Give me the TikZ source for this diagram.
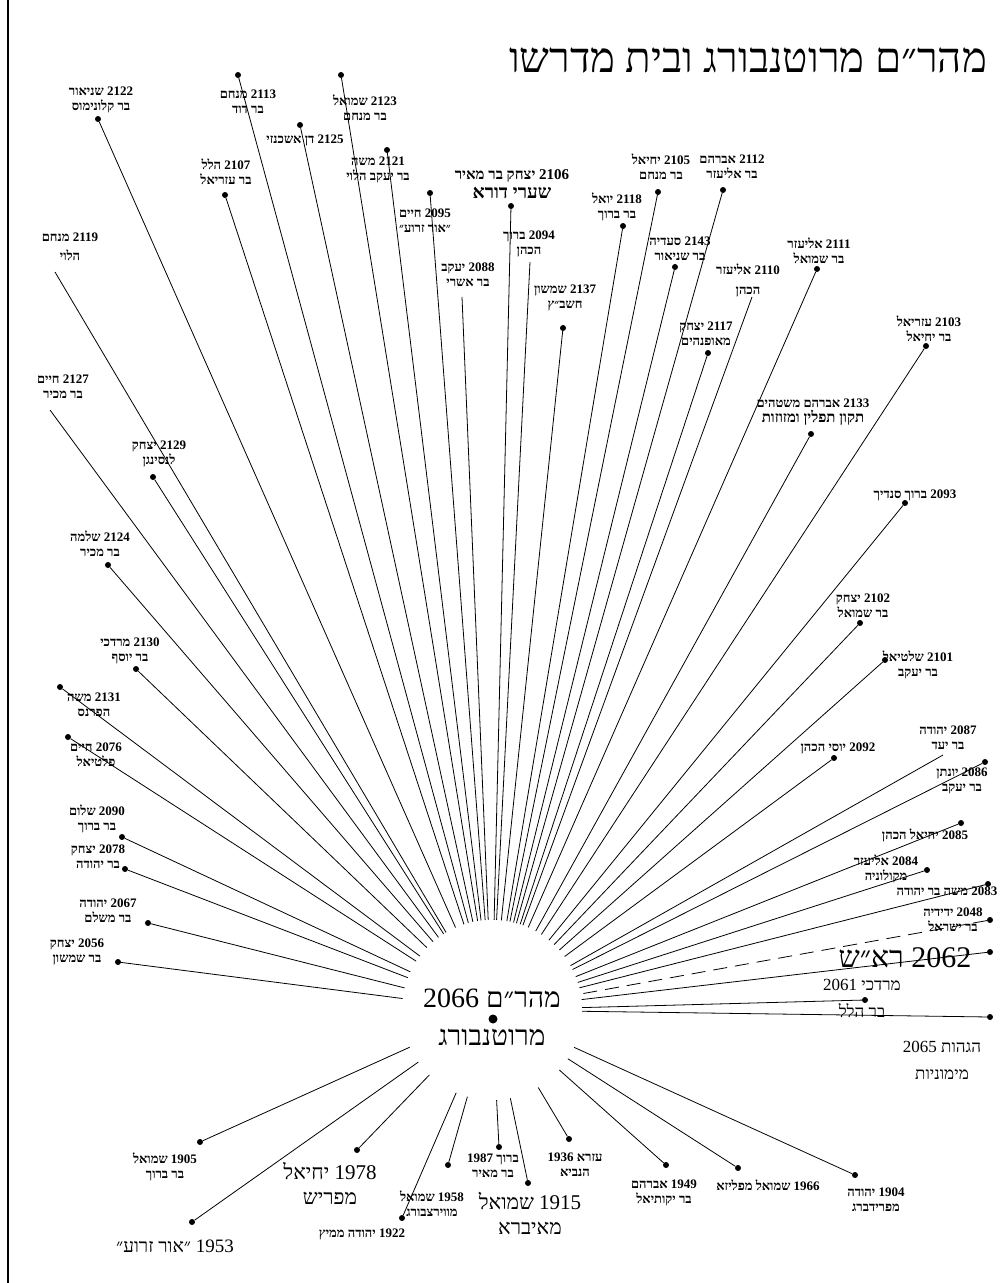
\documentclass[tikz,border=0pt]{standalone}
\usepackage{fontspec}
\usetikzlibrary{shapes.geometric}
\newfontfamily\heb[Script=Hebrew]{Liberation Serif}
\TeXXeTstate=1
\newcommand\hb[1]{\beginR #1\endR}
\tikzset{
  lab/.style={font=\heb\bfseries\fontsize{13}{15}\selectfont, align=center, inner sep=0pt},
  mid/.style={font=\heb\fontsize{17}{20}\selectfont, align=center, inner sep=0pt},
  big/.style={font=\heb\fontsize{21}{25}\selectfont, align=center, inner sep=0pt},
  dot/.style={circle, fill=black, inner sep=0pt, minimum size=6pt},
  ray/.style={line width=0.8pt},
}
\begin{document}
\begin{tikzpicture}[x=1pt,y=-1pt]
\fill[white] (0,0) rectangle (1000,1283);
\useasboundingbox (0,0) rectangle (1000,1283);
\draw[line width=1.2pt] (8,0) -- (8,1283);

\node[circle, minimum size=180pt, inner sep=0pt] (hub) at (492,1010) {};

% ---- dots / line ends
\node[dot] (d2122) at (98,119) {};
\node[dot] (d2113) at (238,75) {};
\node[dot] (d2123) at (341,75) {};
\node[dot] (d2125) at (300,125) {};
\node[dot] (d2107) at (225,195) {};
\node[dot] (d2121) at (387,150) {};
\node[dot] (d2095) at (430,193) {};
\node[dot] (d2106) at (511,206) {};
\coordinate (d2094) at (530,262);
\coordinate (d2088) at (462,297);
\node[dot] (d2137) at (563,328) {};
\node[dot] (d2118) at (623,226) {};
\node[dot] (d2105) at (658,192) {};
\node[dot] (d2112) at (723,190) {};
\node[dot] (d2143) at (675,267) {};
\coordinate (d2110) at (752,297);
\node[dot] (d2111) at (817,269) {};
\node[dot] (d2117) at (708,353) {};
\node[dot] (d2103) at (926,346) {};
\coordinate (d2119) at (55,272);
\coordinate (d2127) at (50,410);
\node[dot] (d2129) at (153,477) {};
\node[dot] (d2124) at (108,565) {};
\node[dot] (d2130) at (136,669) {};
\node[dot] (d2131) at (60,687) {};
\node[dot] (d2076) at (68,737) {};
\node[dot] (d2090) at (122,837) {};
\node[dot] (d2078) at (125,869) {};
\node[dot] (d2067) at (148,923) {};
\node[dot] (d2056) at (118,962) {};
\node[dot] (d2133) at (811,434) {};
\node[dot] (d2093) at (905,503) {};
\node[dot] (d2102) at (860,623) {};
\node[dot] (d2101) at (885,660) {};
\node[dot] (d2092) at (834,758) {};
\coordinate (d2087) at (943,755);
\node[dot] (d2086) at (985,762) {};
\node[dot] (d2085) at (961,823) {};
\node[dot] (d2084) at (927,870) {};
\node[dot] (d2083) at (988,884) {};
\node[dot] (d2048) at (990,920) {};
\node[dot] (d2062) at (990,952) {};
\node[dot] (d2061) at (865,1000) {};
\node[dot] (d2065) at (990,1017) {};
\node[dot] (d1905) at (200,1142) {};
\node[dot] (d1953) at (192,1222) {};
\node[dot] (d1978) at (357,1150) {};
\node[dot] (d1922) at (402,1218) {};
\node[dot] (d1958) at (448,1165) {};
\node[dot] (d1987) at (499,1147) {};
\node[dot] (d1915) at (528,1183) {};
\node[dot] (d1936) at (569,1139) {};
\node[dot] (d1949) at (666,1165) {};
\node[dot] (d1966) at (738,1168) {};
\node[dot] (d1904) at (855,1175) {};

% ---- rays
\foreach \n in {2122,2113,2123,2125,2107,2121,2095,2106,2094,2088,2137,2118,2105,2112,2143,2110,2111,2117,2103,
  2119,2127,2129,2124,2130,2131,2076,2090,2078,2067,2056,
  2133,2093,2102,2101,2092,2087,2086,2085,2084,2083,2062,2061,2065,
  1905,1953,1978,1922,1958,1987,1915,1936,1949,1966,1904}
  \draw[ray] (d\n) -- (hub);
\draw[ray, dash pattern=on 14pt off 8pt] (d2048) -- (hub);

% ---- labels
\node[font=\heb\fontsize{42}{46}\selectfont, inner sep=0pt] (title) at (748,60) {\hb{מהר״ם מרוטנבורג ובית מדרשו}};

\node[lab] (l2122) at (101,100) {\hb{שניאור} 2122\\\hb{בר קלונימוס}};
\node[lab] (l2113) at (248,102) {\hb{מנחם} 2113\\\hb{בר דוד}};
\node[lab] (l2123) at (365,108) {\hb{שמואל} 2123\\\hb{בר מנחם}};
\node[lab] (l2125) at (305,140) {\hb{דן אשכנזי} 2125};
\node[lab] (l2107) at (226,172) {\hb{הלל} 2107\\\hb{בר עזריאל}};
\node[lab] (l2121) at (378,170) {\hb{משה} 2121\\\hb{בר יעקב הלוי}};
\node[lab] (l2095) at (425,221) {\hb{חיים} 2095\\\hb{״אור זרוע״}};
\node[lab, font=\heb\bfseries\fontsize{15}{19}\selectfont] (l2106) at (512,184) {\hb{יצחק בר מאיר} 2106\\{\fontsize{19}{21}\selectfont\hb{שערי דורא}}};
\node[lab] (l2094) at (529,244) {\hb{ברוך} 2094\\\hb{הכהן}};
\node[lab] (l2088) at (468,275) {\hb{יעקב} 2088\\\hb{בר אשרי}};
\node[lab] (l2137) at (565,298) {\hb{שמשון} 2137\\\hb{חשב״ץ}};
\node[lab] (l2118) at (617,207) {\hb{יואל} 2118\\\hb{בר ברוך}};
\node[lab] (l2105) at (661,167) {\hb{יחיאל} 2105\\\hb{בר מנחם}};
\node[lab] (l2112) at (732,167) {\hb{אברהם} 2112\\\hb{בר אליעזר}};
\node[lab] (l2143) at (680,249) {\hb{סעדיה} 2143\\\hb{בר שניאור}};
\node[lab] (l2110) at (748,280) {\hb{אליעזר} 2110\\[5pt]\hb{הכהן}};
\node[lab] (l2111) at (819,251) {\hb{אליעזר} 2111\\\hb{בר שמואל}};
\node[lab] (l2117) at (706,334) {\hb{יצחק} 2117\\\hb{מאופנהים}};
\node[lab] (l2103) at (929,329) {\hb{עזריאל} 2103\\\hb{בר יחיאל}};
\node[lab] (l2119) at (70,247) {\hb{מנחם} 2119\\[4pt]\hb{הלוי}};
\node[lab] (l2127) at (63,387) {\hb{חיים} 2127\\\hb{בר מכיר}};
\node[lab] (l2129) at (159,454) {\hb{יצחק} 2129\\\hb{לנסינגן}};
\node[lab] (l2124) at (100,544) {\hb{שלמה} 2124\\\hb{בר מכיר}};
\node[lab] (l2130) at (130,651) {\hb{מרדכי} 2130\\\hb{בר יוסף}};
\node[lab] (l2131) at (94,705) {\hb{משה} 2131\\\hb{הפרנס}};
\node[lab] (l2076) at (96,755) {\hb{חיים} 2076\\\hb{פלטיאל}};
\node[lab] (l2090) at (97,819) {\hb{שלום} 2090\\\hb{בר ברוך}};
\node[lab] (l2078) at (98,857) {\hb{יצחק} 2078\\\hb{בר יהודה}};
\node[lab] (l2067) at (108,911) {\hb{יהודה} 2067\\\hb{בר משלם}};
\node[lab] (l2056) at (77,952) {\hb{יצחק} 2056\\\hb{בר שמשון}};

\node[lab] (l2133) at (813,412) {\hb{אברהם משטהים} 2133\\{\fontsize{15}{17}\selectfont\hb{תקון תפלין ומזוזות}}};
\node[lab] (l2093) at (915,495) {\hb{ברוך סנדיך} 2093};
\node[lab] (l2102) at (863,606) {\hb{יצחק} 2102\\\hb{בר שמואל}};
\node[lab] (l2101) at (918,665) {\hb{שלטיאל} 2101\\\hb{בר יעקב}};
\node[lab] (l2092) at (838,748) {\hb{יוסי הכהן} 2092};
\node[lab] (l2087) at (948,738) {\hb{יהודה} 2087\\\hb{בר יעד}};
\node[lab] (l2086) at (962,781) {\hb{יונתן} 2086\\\hb{בר יעקב}};
\node[lab] (l2085) at (925,835) {\hb{יחיאל הכהן} 2085};
\node[lab] (l2084) at (886,869) {\hb{אליעזר} 2084\\\hb{מקולוניה}};
\node[lab] (l2083) at (947,891) {\hb{משה בר יהודה} 2083};
\node[lab] (l2048) at (953,920) {\hb{ידידיה} 2048\\\hb{בר ישראל}};
\node[font=\heb\fontsize{30}{34}\selectfont, inner sep=0pt] (l2062) at (905,958) {\hb{רא״ש} 2062};
\node[mid] (l2061) at (862,998) {2061 \hb{מרדכי}\\[7pt]\hb{בר הלל}};
\node[mid] (l2065) at (942,1060) {2065 \hb{הגהות}\\[7pt]\hb{מימוניות}};

\node[font=\heb\fontsize{28}{32}\selectfont, inner sep=0pt] (c1) at (492,998) {2066 \hb{מהר״ם}};
\node[font=\heb\fontsize{28}{32}\selectfont, inner sep=0pt] (c2) at (492,1037) {\hb{מרוטנבורג}};
\node[dot, minimum size=9pt] (cdot) at (493,1019) {};

\node[lab] (l1905) at (165,1167) {\hb{שמואל} 1905\\\hb{בר ברוך}};
\node[font=\heb\fontsize{19}{22}\selectfont, inner sep=0pt] (l1953) at (175,1246) {\hb{״אור זרוע״} 1953};
\node[big] (l1978) at (330,1183) {\hb{יחיאל} 1978\\\hb{מפריש}};
\node[lab] (l1922) at (362,1234) {\hb{יהודה ממיץ} 1922};
\node[lab] (l1958) at (432,1204) {\hb{שמואל} 1958\\\hb{מווירצבורג}};
\node[lab] (l1987) at (493,1166) {1987 \hb{ברוך}\\\hb{בר מאיר}};
\node[big] (l1915) at (530,1214) {\hb{שמואל} 1915\\\hb{מאיברא}};
\node[lab] (l1936) at (575,1165) {1936 \hb{עזרא}\\\hb{הנביא}};
\node[lab] (l1949) at (664,1193) {\hb{אברהם} 1949\\\hb{בר יקותיאל}};
\node[lab] (l1966) at (768,1185) {\hb{שמואל מפליזא} 1966};
\node[lab] (l1904) at (876,1200) {\hb{יהודה} 1904\\\hb{מפרידברג}};
\end{tikzpicture}
\end{document}
